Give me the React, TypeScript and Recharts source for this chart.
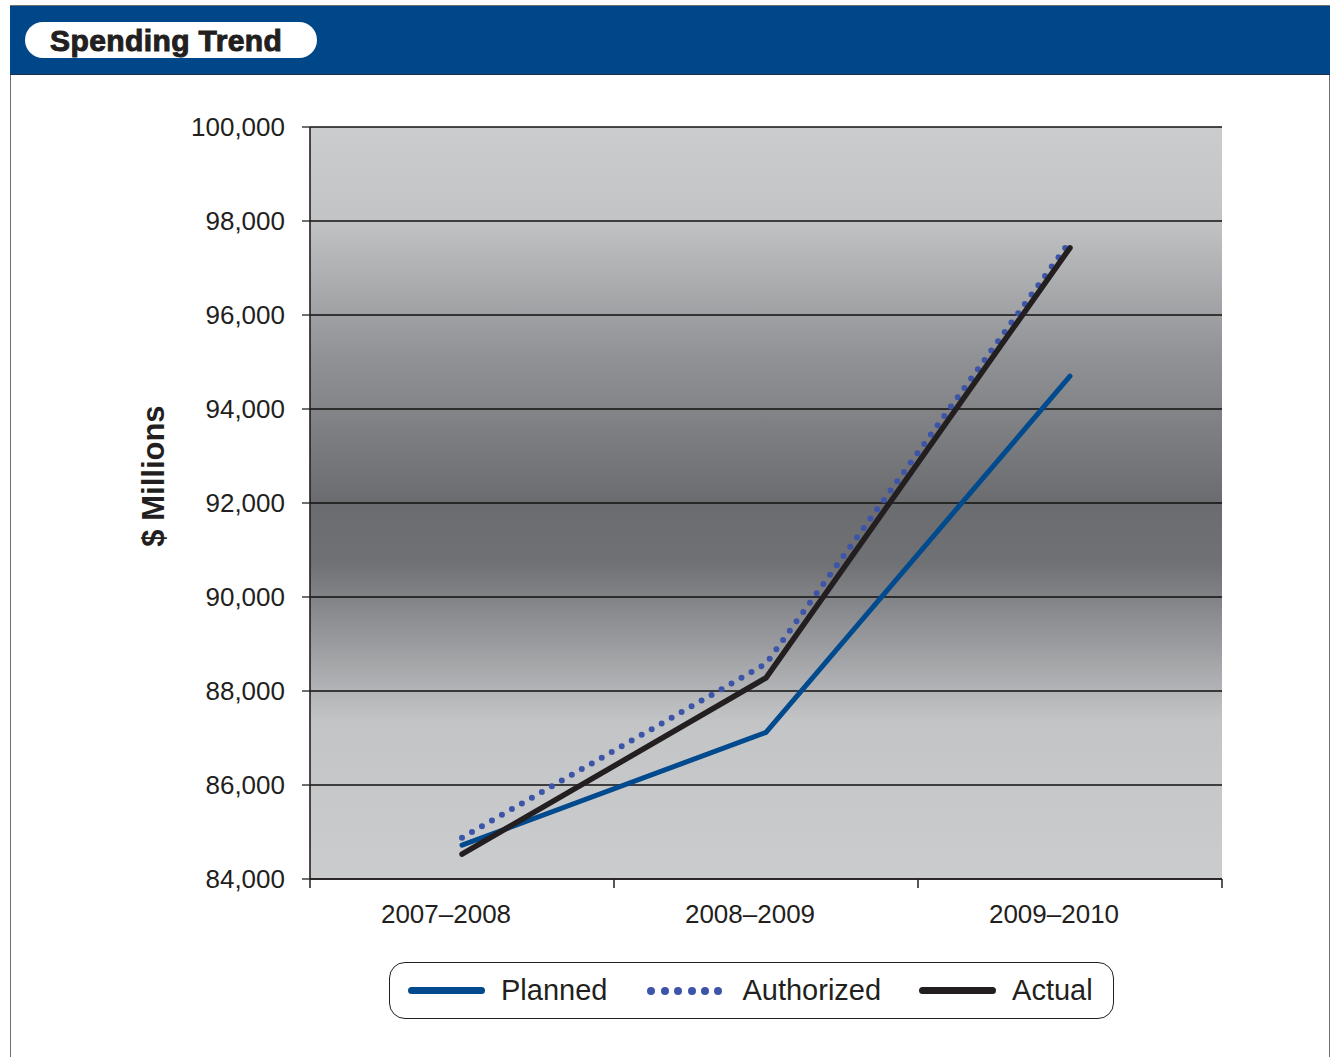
import React from "react";
import {
  LineChart,
  Line,
  XAxis,
  YAxis,
  CartesianGrid,
} from "recharts";

const categories = ["2007–2008", "2008–2009", "2009–2010"];
const planned = [84720, 87120, 94700];
const authorized = [84880, 88580, 97570];
const actual = [84530, 88280, 97430];
const yTicks = [84000, 86000, 88000, 90000, 92000, 94000, 96000, 98000, 100000];

const series = [
  { key: "planned", label: "Planned", color: "#004A8D", width: 5, dotted: false },
  { key: "authorized", label: "Authorized", color: "#3D55A8", width: 6, dotted: true },
  { key: "actual", label: "Actual", color: "#231F20", width: 5.5, dotted: false },
];

const FONT = "'Liberation Sans', Arial, Helvetica, sans-serif";
const INK = "#231F20";
const HALF_BAND = 152;
const TICK_SIZE = 9;
const TICK_MARGIN = 2;

function XTick(props: any) {
  const { x, y, payload } = props;
  const idx = payload?.index ?? props.index ?? 0;
  const axisY = y - TICK_SIZE - TICK_MARGIN;
  const last = idx === categories.length - 1;
  return (
    <g>
      <line x1={x - HALF_BAND} x2={x - HALF_BAND} y1={axisY} y2={axisY + TICK_SIZE} stroke={INK} strokeWidth={1.5} />
      {last && (
        <line x1={x + HALF_BAND} x2={x + HALF_BAND} y1={axisY} y2={axisY + TICK_SIZE} stroke={INK} strokeWidth={1.5} />
      )}
      <text x={x - 16} y={y + 33} textAnchor="middle" fontSize={26} fontFamily={FONT} fill={INK}>
        {payload.value}
      </text>
    </g>
  );
}

function YLabel({ viewBox }: any) {
  const cx = viewBox.x - 57;
  const cy = viewBox.y + viewBox.height / 2 - 27;
  return (
    <text
      x={cx}
      y={cy}
      transform={`rotate(-90 ${cx} ${cy})`}
      textAnchor="middle"
      dominantBaseline="central"
      fontSize={31}
      fontWeight="bold"
      fontFamily={FONT}
      fill={INK}
    >
      $ Millions
    </text>
  );
}

function LegendBox() {
  return (
    <div
      style={{
        position: "absolute",
        left: 389,
        top: 962,
        width: 725,
        height: 57,
        boxSizing: "border-box",
        border: `1.5px solid ${INK}`,
        borderRadius: 16,
        display: "flex",
        alignItems: "center",
        paddingLeft: 18,
        fontFamily: FONT,
        fontSize: 29,
        color: INK,
        background: "#fff",
      }}
    >
      {series.map((s, i) => (
        <div key={s.key} style={{ display: "flex", alignItems: "center", marginRight: i === 0 ? 40 : 38 }}>
          {s.dotted ? (
            <div style={{ width: 75, display: "flex", justifyContent: "space-between" }}>
              {[0, 1, 2, 3, 4, 5].map((d) => (
                <span key={d} style={{ width: 8, height: 8, borderRadius: 4, background: s.color, display: "inline-block" }} />
              ))}
            </div>
          ) : (
            <span style={{ width: 77, height: 7, borderRadius: 4, background: s.color, display: "inline-block" }} />
          )}
          <span style={{ marginLeft: s.dotted ? 20 : 16 }}>{s.label}</span>
        </div>
      ))}
    </div>
  );
}

export default function App() {
  const data = categories.map((c, i) => ({
    category: c,
    planned: planned[i],
    authorized: authorized[i],
    actual: actual[i],
  }));

  return (
    <div style={{ position: "absolute", left: 0, top: 0, width: 1332, height: 1057, background: "#fff", overflow: "hidden", fontFamily: FONT }}>
      {/* frame */}
      <div
        style={{
          position: "absolute",
          left: 10,
          top: 5,
          width: 1320,
          height: 1070,
          boxSizing: "border-box",
          border: "1.5px solid #6D6E71",
        }}
      />
      <div style={{ position: "absolute", left: 0, top: 0 }}>
        <LineChart
          width={1332}
          height={1057}
          data={data}
          margin={{ top: 127, right: 110, bottom: 118, left: 210 }}
        >
          <defs>
            <linearGradient id="plotBg" x1="0" y1="0" x2="0" y2="1">
              <stop offset="0%" stopColor="#CBCCCE" />
              <stop offset="12%" stopColor="#C3C4C6" />
              <stop offset="30%" stopColor="#929396" />
              <stop offset="50%" stopColor="#6B6C70" />
              <stop offset="58%" stopColor="#707175" />
              <stop offset="79%" stopColor="#C3C4C6" />
              <stop offset="100%" stopColor="#CBCCCE" />
            </linearGradient>
          </defs>
          <CartesianGrid
            vertical={false}
            stroke="#111111"
            strokeWidth={1.3}
            fill="url(#plotBg)"
            fillOpacity={1}
          />
          <XAxis
            dataKey="category"
            padding={{ left: HALF_BAND, right: HALF_BAND }}
            tickLine={false}
            tickSize={TICK_SIZE}
            tickMargin={TICK_MARGIN}
            axisLine={{ stroke: INK, strokeWidth: 1.6 }}
            tick={<XTick />}
            height={60}
            interval={0}
          />
          <YAxis
            domain={[84000, 100000]}
            ticks={yTicks}
            width={100}
            tickSize={8}
            tickMargin={17}
            tickLine={{ stroke: INK, strokeWidth: 1.3 }}
            axisLine={{ stroke: INK, strokeWidth: 1.6 }}
            tick={{ fontSize: 26, fontFamily: FONT, fill: INK }}
            tickFormatter={(v: number) => v.toLocaleString("en-US")}
            label={<YLabel />}
          />
          <YAxis
            yAxisId="right"
            orientation="right"
            domain={[84000, 100000]}
            width={0}
            tick={false}
            tickLine={false}
            axisLine={{ stroke: INK, strokeWidth: 1.6 }}
          />
          {series.map((s) => (
            <Line
              key={s.key}
              type="linear"
              dataKey={s.key}
              stroke={s.color}
              strokeWidth={s.width}
              strokeDasharray={s.dotted ? "0 11.5" : undefined}
              strokeLinecap="round"
              strokeLinejoin="miter"
              dot={false}
              activeDot={false}
              isAnimationActive={false}
            />
          ))}
        </LineChart>
      </div>
      {/* header */}
      <div
        style={{
          position: "absolute",
          left: 10,
          top: 5,
          width: 1320,
          height: 70,
          background: "#00478A",
          borderTop: "1.5px solid #6D6E71",
          borderBottom: "1.5px solid #1E2F4F",
          boxSizing: "border-box",
        }}
      />
      <div
        style={{
          position: "absolute",
          left: 25,
          top: 22,
          width: 292,
          height: 36,
          borderRadius: 18,
          background: "#fff",
          boxSizing: "border-box",
          paddingLeft: 25,
          lineHeight: "37px",
          fontSize: 30,
          fontWeight: 900,
          letterSpacing: 0.4,
          WebkitTextStroke: `1px ${INK}`,
          color: INK,
          whiteSpace: "nowrap",
        }}
      >
        Spending Trend
      </div>
      <LegendBox />
    </div>
  );
}
